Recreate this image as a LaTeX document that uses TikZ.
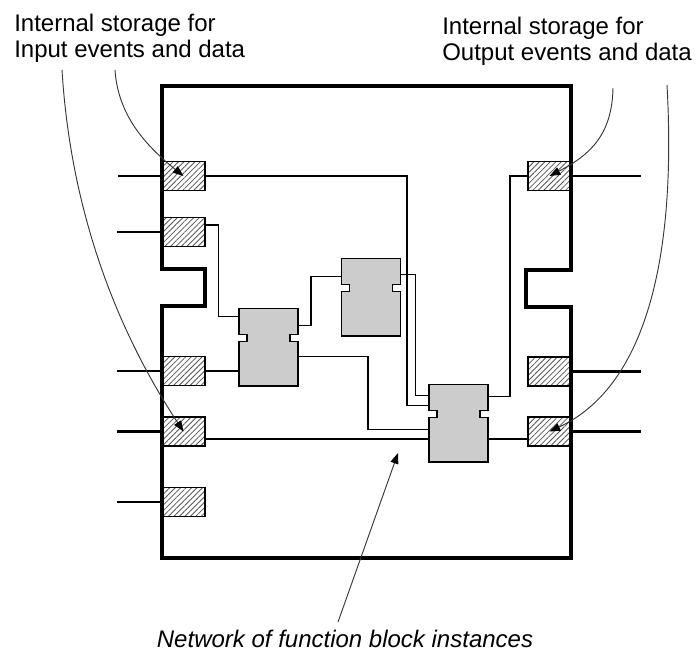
\documentclass[tikz,border=0pt]{standalone}
\usepackage{fontspec}
\setmainfont{Liberation Sans}
\usetikzlibrary{calc,patterns.meta,arrows.meta}

\begin{document}
\begin{tikzpicture}[x=0.75pt, y=-0.75pt, every node/.style={font=\fontsize{18}{19.5}\selectfont}]
	% Define colors
	\definecolor{fb_gray}{RGB}{204, 204, 204}
	\definecolor{hatch_gray}{RGB}{85, 85, 85}
	\definecolor{lead_gray}{RGB}{55, 55, 55}

	% Styles
	\tikzstyle{store_box} = [draw=black, line width=0.9pt, minimum width=32.25pt, minimum height=21.75pt, inner sep=0pt, pattern={Lines[angle=45, distance=2.9pt, line width=0.6pt]}, pattern color=hatch_gray]
	\tikzstyle{fb_node} = [draw=none, minimum width=43.9pt, minimum height=57.5pt, inner sep=0pt]
	\tikzstyle{fb_line} = [draw=black, line width=1pt, fill=fb_gray]
	\tikzstyle{net_link} = [draw=black, line width=0.9pt]
	\tikzstyle{pin_line} = [draw=black, line width=2.2pt]
	\tikzstyle{frame_line} = [draw=black, line width=2.3pt, line join=miter]
	\tikzstyle{leader} = [draw=lead_gray, line width=0.7pt, -{Triangle[length=8pt, width=6pt, color=black]}]
	\tikzstyle{note_text} = [align=left, inner sep=0pt]

	% Notched outline of a function block
	\def\fbOutline#1{\draw[fb_line] (#1.north west) -- ++(0,26) -- ++(8,0) -- ++(0,6.5) -- ++(-8,0) -- (#1.south west) -- (#1.south east) -- ($(#1.north east)+(0,32.5)$) -- ++(-8,0) -- ++(0,-6.5) -- ++(8,0) -- (#1.north east) -- cycle;}

	\useasboundingbox (0,0) rectangle (698,652);

	% Storage boxes (left)
	\node[store_box] (l1) at (183.5,176) {};
	\node[store_box] (l2) at (183.5,232) {};
	\node[store_box] (l3) at (183.5,371) {};
	\node[store_box] (l4) at (183.5,431.5) {};
	\node[store_box] (l5) at (183.5,502) {};

	% Storage boxes (right)
	\node[store_box] (r1) at (549.5,176) {};
	\node[store_box] (r2) at (549.5,371.5) {};
	\node[store_box] (r3) at (549.5,431.5) {};

	% Function block instances
	\node[fb_node] (fb1) at (268.5,347.3) {};
	\node[fb_node] (fb2) at (370.7,297.3) {};
	\node[fb_node] (fb3) at (458.5,423.3) {};
	\fbOutline{fb1}
	\fbOutline{fb2}
	\fbOutline{fb3}

	% External pins
	\foreach \s in {l1,l2,l3,l4,l5} {
		\draw[pin_line] (\s.west) -- ++(-44,0);
	}
	\foreach \s in {r1,r2,r3} {
		\draw[pin_line] (\s.east) -- ++(69,0);
	}

	% Resource outline
	\draw[frame_line] (162,86) -- (571,86) -- (571,270) -- (526,270) -- (526,307) -- (571,307) -- (571,558) -- (162,558) -- (162,306) -- (205,306) -- (205,269) -- (162,269) -- cycle;

	% Network connections
	\coordinate (l4out) at ($(l4.east)+(0,7.5)$);
	\draw[net_link] (l1.east) -| ($(fb3.north west)+(-22,21)$) -- ($(fb3.north west)+(0,21)$);
	\draw[net_link] ($(l2.north east)+(0,8)$) -- ++(13,0) |- ($(fb1.north west)+(0,8)$);
	\draw[net_link] ($(fb1.north east)+(0,17)$) -- ++(13,0) |- ($(fb2.north west)+(0,18)$);
	\draw[net_link] (l3.east) -- (l3.east -| fb1.west);
	\draw[net_link] ($(fb1.north east)+(0,48)$) -- ++(70,0) |- ($(fb3.north west)+(0,45)$);
	\draw[net_link] ($(fb2.north east)+(0,16)$) -- ++(15,0) |- ($(fb3.north west)+(0,11)$);
	\draw[net_link] (l4out) -- (l4out -| fb3.west);
	\draw[net_link] (l4out -| fb3.east) -- (l4out -| r3.west);
	\draw[net_link] ($(fb3.north east)+(0,12)$) -- ++(22,0) |- (r1.west);

	% Labels
	\node[note_text, anchor=north west] (lbl_in) at (14,14) {Internal storage for\\Input events and data};
	\node[note_text, anchor=north west] (lbl_out) at (442,17) {Internal storage for\\Output events and data};
	\node[note_text, anchor=base, font=\fontsize{18}{19.5}\selectfont\itshape] (lbl_net) at (345,647) {Network of function block instances};

	% Leader lines
	\coordinate (in_tail1) at (115,70);
	\coordinate (in_tail2) at (62,70);
	\coordinate (out_tail1) at (613,88);
	\coordinate (out_tail2) at (667,85);
	\coordinate (net_tail) at (338,622);
	\coordinate (net_pt) at (398,453);
	\draw[leader] (in_tail1) .. controls (118,115) and (145,145) .. (l1.center);
	\draw[leader] (in_tail2) .. controls (70,200) and (110,320) .. (l4.center);
	\draw[leader] (out_tail1) .. controls (612,135) and (590,155) .. (r1.center);
	\draw[leader] (out_tail2) .. controls (677,265) and (643,388) .. (r3.center);
	\draw[leader] (net_tail) -- (net_pt);

\end{tikzpicture}
\end{document}
